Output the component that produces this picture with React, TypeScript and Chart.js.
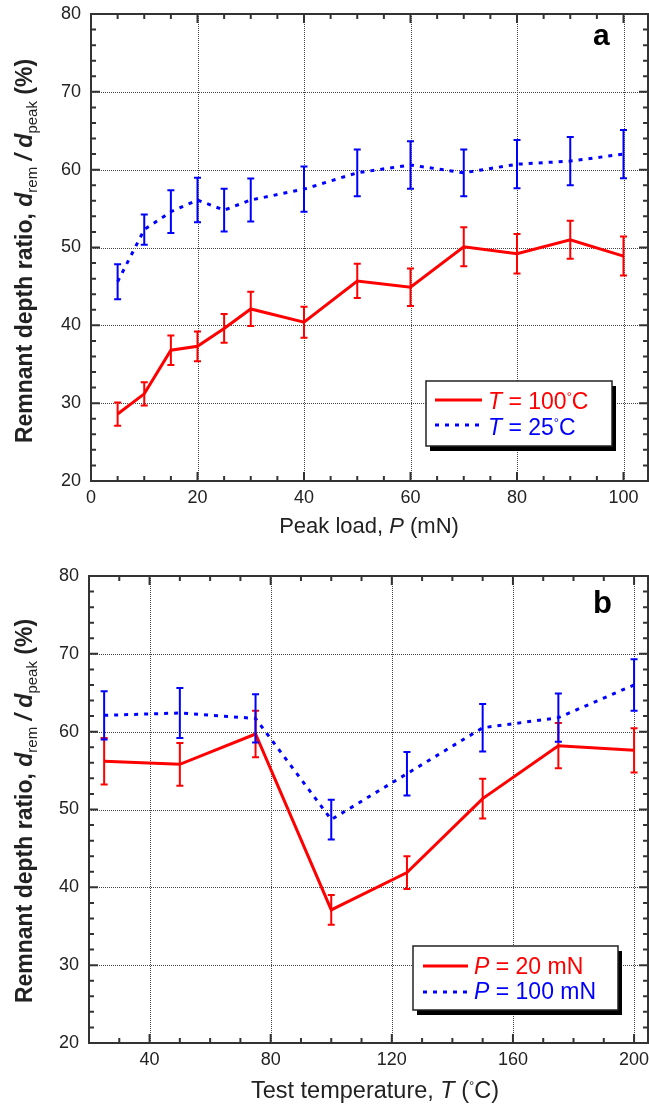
import React, { useEffect, useRef } from 'react';
import { Chart, registerables } from 'chart.js';
Chart.register(...registerables);

const FAMILY = '"Liberation Sans", Arial, Helvetica, sans-serif';
const RED = '#ff0000';
const BLUE = '#0000ff';

// ---------- Panel a data ----------
const loadP = [5, 10, 15, 20, 25, 30, 40, 50, 60, 70, 80, 90, 100];
const ratioT100 = [28.6, 31.2, 36.8, 37.3, 39.6, 42.1, 40.4, 45.7, 44.9, 50.1, 49.2, 51.0, 48.9];
const errT100 = [1.5, 1.5, 1.9, 1.9, 1.85, 2.2, 2.0, 2.2, 2.4, 2.5, 2.55, 2.45, 2.5];
const ratioT25 = [45.6, 52.3, 54.6, 56.1, 54.8, 56.1, 57.5, 59.6, 60.6, 59.6, 60.7, 61.1, 62.0];
const errT25 = [2.25, 1.95, 2.75, 2.85, 2.75, 2.75, 2.9, 3.0, 3.05, 3.0, 3.1, 3.1, 3.1];
const xTicksA = [0, 20, 40, 60, 80, 100];

// ---------- Panel b data ----------
const tempT = [25, 50, 75, 100, 125, 150, 175, 200];
const ratioP20 = [56.2, 55.8, 59.7, 37.1, 41.9, 51.4, 58.2, 57.6];
const errP20 = [3.0, 2.75, 3.0, 1.9, 2.1, 2.55, 2.9, 2.85];
const ratioP100 = [62.1, 62.4, 61.7, 48.7, 54.6, 60.5, 61.8, 66.0];
const errP100 = [3.1, 3.2, 3.1, 2.55, 2.8, 3.05, 3.1, 3.3];
const xTicksB = [40, 80, 120, 160, 200];

const yTicks = [20, 30, 40, 50, 60, 70, 80];

type Seg = { t: string; italic?: boolean; bold?: boolean; size: number; dy?: number };

const segFont = (s: Seg) => `${s.italic ? 'italic ' : ''}${s.bold ? 'bold ' : ''}${s.size}px ${FAMILY}`;

function richWidth(ctx: CanvasRenderingContext2D, segs: Seg[]) {
  let w = 0;
  for (const s of segs) {
    ctx.font = segFont(s);
    w += ctx.measureText(s.t).width;
  }
  return w;
}

function drawRich(ctx: CanvasRenderingContext2D, segs: Seg[], x: number, y: number, align: 'left' | 'center', color: string) {
  let cx = align === 'center' ? x - richWidth(ctx, segs) / 2 : x;
  ctx.fillStyle = color;
  ctx.textAlign = 'left';
  ctx.textBaseline = 'alphabetic';
  for (const s of segs) {
    ctx.font = segFont(s);
    ctx.fillText(s.t, cx, y + (s.dy || 0));
    cx += ctx.measureText(s.t).width;
  }
}

const Y_TITLE: Seg[] = [
  { t: 'Remnant depth ratio, ', bold: true, size: 23 },
  { t: 'd', bold: true, italic: true, size: 23 },
  { t: 'rem', size: 15, dy: 5 },
  { t: ' / ', bold: true, italic: true, size: 23 },
  { t: 'd', bold: true, italic: true, size: 23 },
  { t: 'peak', size: 15, dy: 5 },
  { t: ' (%)', bold: true, size: 23 },
];

const deg = (size: number): Seg => ({ t: '°', size, dy: -8 });

interface PanelCfg {
  top: number;
  height: number;
  padTop: number;
  yAxisW: number;
  xAxisH: number;
  xMin: number;
  xMax: number;
  xTicks: number[];
  xMinor: number;
  xMajor: number;
  series: { x: number[]; y: number[]; err: number[]; color: string; dash: number[] }[];
  legend: {
    box: { x: number; y: number; w: number; h: number };
    sx0: number; sx1: number; tx: number;
    rows: { y: number; base: number; segs: Seg[]; color: string; dash: number[] }[];
  };
  label: { t: string; x: number; y: number; size: number };
  xTitle: { segs: Seg[]; cx: number; base: number };
  yTitle: { bx: number; cy: number };
}

const panelA: PanelCfg = {
  top: 0, height: 555, padTop: 14, yAxisW: 91, xAxisH: 74,
  xMin: 0, xMax: 104.6, xTicks: xTicksA, xMinor: 5, xMajor: 20,
  series: [
    { x: loadP, y: ratioT100, err: errT100, color: RED, dash: [] },
    { x: loadP, y: ratioT25, err: errT25, color: BLUE, dash: [4, 6] },
  ],
  legend: {
    box: { x: 426, y: 381, w: 186, h: 65 }, sx0: 435, sx1: 482, tx: 488,
    rows: [
      { y: 400, base: 409, color: RED, dash: [], segs: [{ t: 'T', italic: true, size: 23 }, { t: ' = 100', size: 23 }, deg(13), { t: 'C', size: 23 }] },
      { y: 425, base: 435, color: BLUE, dash: [4, 6], segs: [{ t: 'T', italic: true, size: 23 }, { t: ' = 25', size: 23 }, deg(13), { t: 'C', size: 23 }] },
    ],
  },
  label: { t: 'a', x: 593, y: 45, size: 30 },
  xTitle: { segs: [{ t: 'Peak load, ', size: 22 }, { t: 'P', italic: true, size: 22 }, { t: ' (mN)', size: 22 }], cx: 369, base: 533 },
  yTitle: { bx: 32, cy: 251 },
};

const panelB: PanelCfg = {
  top: 555, height: 555, padTop: 21, yAxisW: 89, xAxisH: 67,
  xMin: 20, xMax: 204.6, xTicks: xTicksB, xMinor: 10, xMajor: 40,
  series: [
    { x: tempT, y: ratioP20, err: errP20, color: RED, dash: [] },
    { x: tempT, y: ratioP100, err: errP100, color: BLUE, dash: [4, 6] },
  ],
  legend: {
    box: { x: 413, y: 391, w: 205, h: 64 }, sx0: 423, sx1: 468, tx: 474,
    rows: [
      { y: 411, base: 419, color: RED, dash: [], segs: [{ t: 'P', italic: true, size: 23 }, { t: ' = 20 mN', size: 23 }] },
      { y: 437, base: 444, color: BLUE, dash: [4, 6], segs: [{ t: 'P', italic: true, size: 23 }, { t: ' = 100 mN', size: 23 }] },
    ],
  },
  label: { t: 'b', x: 593, y: 58, size: 31 },
  xTitle: {
    segs: [{ t: 'Test temperature, ', size: 23.5 }, { t: 'T', italic: true, size: 23.5 }, { t: ' (', size: 23.5 }, deg(13), { t: 'C)', size: 23.5 }],
    cx: 375, base: 543,
  },
  yTitle: { bx: 32, cy: 256 },
};

function makeDecor(cfg: PanelCfg) {
  return {
    id: 'decor',
    beforeDatasetsDraw(chart: any) {
      const { ctx, chartArea: a } = chart;
      const xs = chart.scales.x, ys = chart.scales.y;
      ctx.save();
      ctx.strokeStyle = '#444';
      ctx.lineWidth = 1;
      ctx.setLineDash([1, 1]);
      for (let v = Math.ceil(cfg.xMin / cfg.xMajor) * cfg.xMajor; v <= cfg.xMax; v += cfg.xMajor) {
        const px = Math.round(xs.getPixelForValue(v)) + 0.5;
        if (px <= a.left + 2 || px >= a.right - 2) continue;
        ctx.beginPath(); ctx.moveTo(px, a.top); ctx.lineTo(px, a.bottom); ctx.stroke();
      }
      for (const v of yTicks) {
        const py = Math.round(ys.getPixelForValue(v)) + 0.5;
        if (py <= a.top + 2 || py >= a.bottom - 2) continue;
        ctx.beginPath(); ctx.moveTo(a.left, py); ctx.lineTo(a.right, py); ctx.stroke();
      }
      ctx.restore();
    },
    afterDatasetsDraw(chart: any) {
      const { ctx, chartArea: a } = chart;
      const xs = chart.scales.x, ys = chart.scales.y;
      ctx.save();
      // error bars
      ctx.setLineDash([]);
      for (const s of cfg.series) {
        ctx.strokeStyle = s.color;
        ctx.lineWidth = 2;
        s.x.forEach((xv, j) => {
          const px = xs.getPixelForValue(xv);
          const y1 = ys.getPixelForValue(s.y[j] + s.err[j]);
          const y2 = ys.getPixelForValue(s.y[j] - s.err[j]);
          ctx.beginPath();
          ctx.moveTo(px, y1); ctx.lineTo(px, y2);
          ctx.moveTo(px - 3.5, y1); ctx.lineTo(px + 3.5, y1);
          ctx.moveTo(px - 3.5, y2); ctx.lineTo(px + 3.5, y2);
          ctx.stroke();
        });
      }
      // inward ticks
      ctx.strokeStyle = '#333';
      ctx.lineWidth = 2;
      for (let v = Math.ceil(cfg.xMin / cfg.xMinor) * cfg.xMinor; v <= cfg.xMax; v += cfg.xMinor) {
        const px = xs.getPixelForValue(v);
        const len = Math.abs(v % cfg.xMajor) < 1e-6 ? 9 : 5;
        ctx.beginPath();
        ctx.moveTo(px, a.bottom); ctx.lineTo(px, a.bottom - len);
        ctx.moveTo(px, a.top); ctx.lineTo(px, a.top + len);
        ctx.stroke();
      }
      for (let v = 20; v <= 80; v += 2) {
        const py = ys.getPixelForValue(v);
        const len = v % 10 === 0 ? 9 : 5;
        ctx.beginPath();
        ctx.moveTo(a.left, py); ctx.lineTo(a.left + len, py);
        ctx.moveTo(a.right, py); ctx.lineTo(a.right - len, py);
        ctx.stroke();
      }
      // frame
      ctx.strokeRect(a.left, a.top, a.right - a.left, a.bottom - a.top);

      // legend
      const L = cfg.legend;
      ctx.fillStyle = '#000';
      ctx.fillRect(L.box.x + 4, L.box.y + 5, L.box.w, L.box.h);
      ctx.fillStyle = '#fff';
      ctx.fillRect(L.box.x, L.box.y, L.box.w, L.box.h);
      ctx.strokeStyle = '#222';
      ctx.lineWidth = 1.5;
      ctx.strokeRect(L.box.x, L.box.y, L.box.w, L.box.h);
      for (const r of L.rows) {
        ctx.strokeStyle = r.color;
        ctx.lineWidth = 3;
        ctx.setLineDash(r.dash);
        ctx.beginPath(); ctx.moveTo(L.sx0, r.y); ctx.lineTo(L.sx1, r.y); ctx.stroke();
        ctx.setLineDash([]);
        drawRich(ctx, r.segs, L.tx, r.base, 'left', r.color);
      }

      // panel label
      drawRich(ctx, [{ t: cfg.label.t, bold: true, size: cfg.label.size }], cfg.label.x, cfg.label.y, 'left', '#000');

      // axis titles
      drawRich(ctx, cfg.xTitle.segs, cfg.xTitle.cx, cfg.xTitle.base, 'center', '#222');
      ctx.save();
      ctx.translate(cfg.yTitle.bx, cfg.yTitle.cy);
      ctx.rotate(-Math.PI / 2);
      drawRich(ctx, Y_TITLE, 0, 0, 'center', '#222');
      ctx.restore();
      ctx.restore();
    },
  };
}

function Panel({ cfg }: { cfg: PanelCfg }) {
  const ref = useRef<HTMLCanvasElement | null>(null);
  useEffect(() => {
    if (!ref.current) return;
    const chart = new Chart(ref.current, {
      type: 'line',
      data: {
        datasets: cfg.series.map((s) => ({
          data: s.x.map((xv, j) => ({ x: xv, y: s.y[j] })),
          borderColor: s.color,
          backgroundColor: s.color,
          borderWidth: 3,
          borderDash: s.dash,
          pointRadius: 0,
          tension: 0,
          fill: false,
        })),
      },
      options: {
        animation: false,
        responsive: false,
        devicePixelRatio: 1,
        layout: { padding: { top: cfg.padTop, right: 1, left: 0, bottom: 0 } },
        plugins: { legend: { display: false }, tooltip: { enabled: false }, title: { display: false } },
        scales: {
          x: {
            type: 'linear',
            min: cfg.xMin,
            max: cfg.xMax,
            grid: { display: false, drawTicks: false },
            border: { display: false },
            ticks: { color: '#222', font: { size: 18, family: FAMILY }, padding: 6, maxRotation: 0, autoSkip: false },
            afterBuildTicks: (s: any) => { s.ticks = cfg.xTicks.map((v) => ({ value: v })); },
            afterFit: (s: any) => {
              s.height = cfg.xAxisH;
              s.paddingLeft = 0; s.paddingRight = 0; s.paddingTop = 0; s.paddingBottom = 0;
            },
          },
          y: {
            type: 'linear',
            min: 20,
            max: 80,
            grid: { display: false, drawTicks: false },
            border: { display: false },
            ticks: { color: '#222', font: { size: 18, family: FAMILY }, padding: 10 },
            afterBuildTicks: (s: any) => { s.ticks = yTicks.map((v) => ({ value: v })); },
            afterFit: (s: any) => {
              s.width = cfg.yAxisW;
              s.paddingLeft = 0; s.paddingRight = 0; s.paddingTop = 0; s.paddingBottom = 0;
            },
          },
        },
      },
      plugins: [makeDecor(cfg)],
    } as any);
    return () => chart.destroy();
  }, [cfg]);
  return (
    <canvas
      ref={ref}
      width={649}
      height={cfg.height}
      style={{ position: 'absolute', left: 0, top: cfg.top, width: 649, height: cfg.height, display: 'block' }}
    />
  );
}

export default function App() {
  return (
    <div style={{ position: 'absolute', left: 0, top: 0, width: 649, height: 1110, background: '#fff', overflow: 'hidden' }}>
      <Panel cfg={panelA} />
      <Panel cfg={panelB} />
    </div>
  );
}
